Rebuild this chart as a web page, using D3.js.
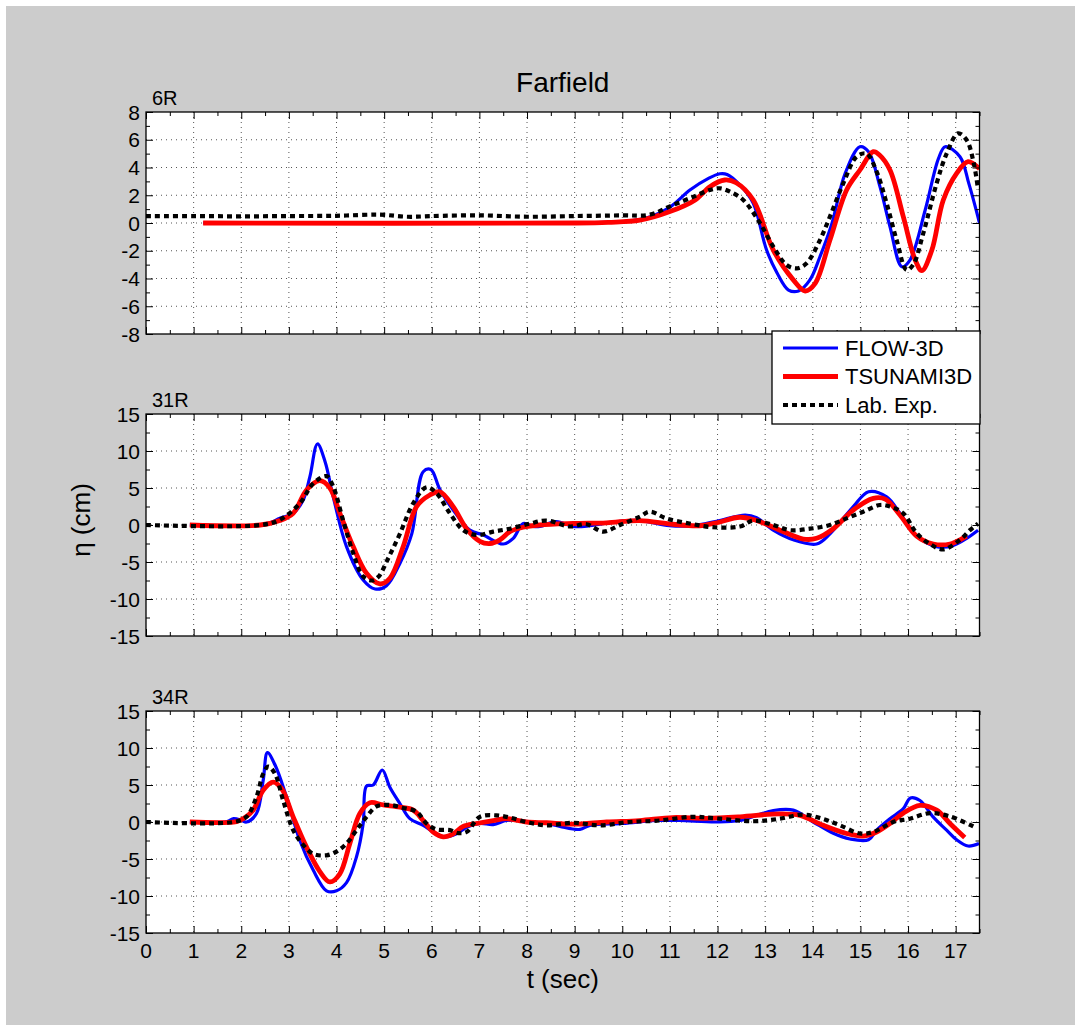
<!DOCTYPE html>
<html>
<head>
<meta charset="utf-8">
<script src="https://cdn.jsdelivr.net/npm/d3@7"></script>
<style>
  body { margin: 0; background: #fff; }
  svg text { font-family: "Liberation Sans", Arial, sans-serif; fill: #000; }
</style>
</head>
<body>
<svg id="chart" width="1075" height="1025"></svg>
<script>
// ---- data: [t (sec), eta (cm)] ----
const flow6R = [[1.2,0],[9.0,0],[9.5,0.03],[10.0,0.1],[10.5,0.35],[11.0,1.15],[11.42,2.38],[11.8,3.2],[12.05,3.55],[12.2,3.5],[12.47,2.74],[12.75,1.42],[13.03,-1.95],[13.25,-3.6],[13.49,-4.83],[13.7,-4.9],[13.94,-4.1],[14.15,-2.43],[14.4,-0.05],[14.68,3.58],[14.99,5.5],[15.17,5.14],[15.41,2.62],[15.62,-0.26],[15.87,-3.15],[16.04,-2.67],[16.36,0.94],[16.64,4.66],[16.78,5.5],[17.09,4.78],[17.28,2.8],[17.5,0]];
const tsu6R = [[1.2,0],[9.0,0],[9.7,0.05],[10.37,0.2],[11.0,0.82],[11.53,1.66],[11.84,2.62],[12.15,3.1],[12.39,2.9],[12.75,1.66],[13.17,-1.95],[13.59,-4.1],[13.84,-4.9],[14.05,-4.35],[14.36,-1.23],[14.71,2.38],[14.99,3.82],[15.27,5.14],[15.4,4.9],[15.62,3.82],[15.9,0.46],[16.15,-2.67],[16.29,-3.43],[16.5,-1.95],[16.74,1.66],[17.02,3.58],[17.26,4.42],[17.5,3.9]];
const lab6R = [[0,0.5],[1,0.5],[2,0.48],[3,0.5],[4,0.52],[4.9,0.6],[5.5,0.45],[6,0.5],[7,0.55],[8,0.45],[9,0.5],[10,0.55],[10.58,0.6],[11.0,1.2],[11.5,1.9],[11.84,2.38],[12.05,2.5],[12.26,2.26],[12.54,1.66],[12.89,0],[13.17,-1.7],[13.45,-3.03],[13.66,-3.27],[13.87,-2.9],[14.15,-1.23],[14.36,0.46],[14.64,2.86],[14.92,4.78],[15.13,5.0],[15.34,3.7],[15.55,1.42],[15.76,-1.23],[15.97,-3.39],[16.11,-3.0],[16.32,-0.74],[16.6,2.86],[16.81,5.0],[17.05,6.46],[17.23,5.98],[17.38,4.3],[17.47,2.4]];

const flow31R = [[0.92,0],[2.4,0],[2.6,0.3],[2.81,0.9],[3.09,1.58],[3.3,3.38],[3.44,6.5],[3.6,10.95],[3.76,8.56],[3.93,3.83],[4.21,-2.92],[4.56,-7.43],[4.81,-8.65],[5.05,-8.2],[5.33,-5.2],[5.58,-1.2],[5.82,7.2],[5.98,7.5],[6.17,4.8],[6.45,2.03],[6.8,-0.7],[7.08,-1.35],[7.5,-2.57],[7.71,-1.8],[7.92,0.2],[8.13,-0.2],[8.27,-0.2],[8.62,0.45],[8.97,-0.2],[9.32,-0.1],[9.88,0.45],[10.36,0.6],[10.99,-0.1],[11.48,-0.1],[11.98,0.5],[12.58,1.35],[12.82,1.0],[13.17,-0.7],[13.59,-2.0],[14.08,-2.57],[14.36,-1.2],[14.85,2.48],[15.17,4.5],[15.55,3.8],[15.83,1.58],[16.18,-1.5],[16.6,-2.92],[16.95,-2.75],[17.23,-1.8],[17.47,-0.7]];
const tsu31R = [[0.92,0],[2.4,0],[2.81,0.6],[3.09,1.58],[3.37,4.73],[3.65,5.99],[3.86,5.0],[4.07,1.58],[4.35,-2.92],[4.63,-6.52],[4.91,-7.97],[5.12,-7.2],[5.4,-2.92],[5.68,2.48],[5.96,4.05],[6.17,4.5],[6.45,2.48],[6.73,-0.5],[7.01,-2.2],[7.22,-2.5],[7.43,-2.0],[7.64,-0.9],[7.92,-0.3],[8.27,0],[8.97,0.2],[9.67,0.3],[10.36,0.6],[11.06,0.1],[11.62,-0.1],[11.98,0.3],[12.47,1.05],[12.82,0.6],[13.31,-0.7],[13.8,-1.9],[14.08,-1.8],[14.43,-0.5],[14.85,2.03],[15.27,3.6],[15.52,3.5],[15.83,1.35],[16.18,-1.5],[16.53,-2.57],[16.88,-2.57],[17.23,-1.5]];
const lab31R = [[0,0],[2.4,0],[2.81,0.7],[3.23,2.93],[3.51,5.6],[3.79,6.6],[3.93,5.2],[4.14,0.6],[4.35,-3.8],[4.56,-6.97],[4.75,-7.5],[4.88,-7.0],[5.1,-4.3],[5.33,-1.2],[5.61,2.93],[5.89,5.1],[6.1,4.3],[6.38,1.58],[6.66,-0.7],[6.94,-1.35],[7.29,-0.9],[7.64,-0.5],[8.06,0.2],[8.41,0.6],[8.9,-0.2],[9.25,0.1],[9.6,-0.9],[9.95,0],[10.36,1.1],[10.58,1.8],[10.92,0.9],[11.41,0.2],[11.9,-0.3],[12.47,-0.2],[12.75,0.6],[13.17,0],[13.52,-0.7],[13.94,-0.5],[14.36,0],[14.71,0.9],[15.06,1.8],[15.41,2.7],[15.62,2.5],[15.9,1.58],[16.18,-1.1],[16.46,-2.57],[16.74,-3.3],[17.09,-2.0],[17.3,-0.7],[17.47,0.2]];

const flow34R = [[0.92,0],[1.7,0.05],[1.84,0.45],[2.01,0.2],[2.11,0],[2.32,1.15],[2.46,5.6],[2.55,9.37],[2.71,7.7],[2.95,3.4],[3.23,-2.5],[3.51,-6.5],[3.79,-9.3],[4.0,-9.3],[4.21,-8.2],[4.42,-4.7],[4.56,-0.2],[4.63,4.86],[4.77,5.0],[4.96,7.03],[5.12,4.7],[5.33,2.5],[5.54,0.45],[5.82,-0.45],[6.03,-1.35],[6.24,-2.0],[6.52,-1.6],[6.73,-0.7],[7.01,-0.2],[7.29,-0.35],[7.57,0.2],[7.85,0.2],[8.13,-0.1],[8.41,-0.2],[8.69,-0.6],[9.11,-1.0],[9.32,-0.45],[10.01,-0.2],[10.71,0.2],[11.2,0.2],[11.97,0],[12.47,0.2],[13.17,1.55],[13.59,1.6],[14.01,0],[14.43,-1.53],[14.78,-2.3],[15.17,-2.4],[15.34,-1.1],[15.62,0.45],[15.9,1.8],[16.05,3.26],[16.25,2.9],[16.53,0.65],[16.81,-1.1],[17.02,-2.4],[17.26,-3.24],[17.49,-2.9]];
const tsu34R = [[0.92,0],[1.9,0.05],[2.04,0.45],[2.25,1.6],[2.46,4.3],[2.67,5.4],[2.85,4.5],[3.09,0.7],[3.37,-3.4],[3.65,-6.7],[3.86,-8.1],[4.07,-7.0],[4.28,-2.9],[4.49,1.15],[4.7,2.6],[4.98,2.3],[5.33,2.0],[5.61,1.6],[5.82,0.2],[6.03,-1.35],[6.24,-2.0],[6.45,-1.6],[6.66,-0.6],[6.94,-0.2],[7.29,0.2],[7.57,0.45],[7.99,0],[8.41,-0.1],[8.97,-0.3],[9.67,0],[10.36,0.2],[11.06,0.6],[11.76,0.5],[12.47,0.7],[13.31,1.1],[13.73,0.9],[14.22,-0.45],[14.71,-1.55],[15.06,-1.9],[15.34,-1.35],[15.62,-0.2],[15.9,1.2],[16.25,2.25],[16.6,1.6],[16.88,-0.2],[17.19,-2.1]];
const lab34R = [[0,0],[1.84,0],[2.11,0.7],[2.32,3.4],[2.46,6.5],[2.57,7.5],[2.71,6.5],[2.88,2.9],[3.09,-1.1],[3.3,-3.1],[3.51,-4.3],[3.79,-4.5],[4.0,-4.0],[4.21,-2.9],[4.42,-1.1],[4.63,0.7],[4.84,2.1],[5.12,2.3],[5.4,1.9],[5.68,1.4],[5.89,-0.2],[6.1,-1.0],[6.38,-1.1],[6.56,-1.5],[6.73,-1.35],[7.01,0.7],[7.36,0.9],[7.64,0.6],[7.99,0],[8.41,-0.45],[8.97,-0.1],[9.53,-0.45],[10.15,0],[10.78,0.2],[11.48,0.7],[11.97,0.5],[12.75,0.1],[13.31,0.45],[13.8,1.0],[14.22,0.4],[14.57,-0.45],[14.99,-1.55],[15.27,-1.35],[15.69,0],[16.04,0.45],[16.46,1.2],[16.88,0.75],[17.37,-0.6]];

const seriesNames = ['FLOW-3D', 'TSUNAMI3D', 'Lab. Exp.'];
const xTicks = d3.range(0, 18, 1);
const xMinorTicks = d3.range(0, 17.6, 0.5);

// ---- layout ----
const svg = d3.select('#chart');
const width = +svg.attr('width');
const height = +svg.attr('height');

svg.append('rect')
  .attr('x', 6).attr('y', 6)
  .attr('width', width - 6).attr('height', height - 6)
  .attr('fill', '#cccccc');

const plotLeft = 146, plotRight = 979.5;
const x = d3.scaleLinear().domain([0, 17.5]).range([plotLeft, plotRight]);

const styles = [
  { color: '#0000ff', width: 3.2, dash: null },
  { color: '#ff0000', width: 4.8, dash: null },
  { color: '#000000', width: 4.2, dash: '5,4' }
];

const drawPanel = (parent, props) => {
  const { id, top, bottom, yDomain, yTicks, yMinorTicks, label, series, showXLabels } = props;
  const innerWidth = plotRight - plotLeft;
  const y = d3.scaleLinear().domain(yDomain).range([bottom, top]);

  const g = parent.append('g').attr('class', 'panel');

  g.append('rect')
    .attr('x', plotLeft).attr('y', top)
    .attr('width', innerWidth).attr('height', bottom - top)
    .attr('fill', '#fff');

  // dotted grid at major ticks
  g.append('g').selectAll('line.vgrid')
    .data(xTicks.filter(d => d > 0))
    .enter().append('line')
      .attr('x1', d => x(d)).attr('x2', d => x(d))
      .attr('y1', top).attr('y2', bottom)
      .attr('stroke', '#555').attr('stroke-width', 1)
      .attr('stroke-dasharray', '1,4');
  g.append('g').selectAll('line.hgrid')
    .data(yTicks.filter(d => d > yDomain[0] && d < yDomain[1]))
    .enter().append('line')
      .attr('x1', plotLeft).attr('x2', plotRight)
      .attr('y1', d => y(d)).attr('y2', d => y(d))
      .attr('stroke', '#555').attr('stroke-width', 1)
      .attr('stroke-dasharray', '1,4');

  // curves
  g.append('clipPath').attr('id', 'clip-' + id)
    .append('rect')
      .attr('x', plotLeft).attr('y', top)
      .attr('width', innerWidth).attr('height', bottom - top);

  const line = d3.line()
    .x(d => x(d[0]))
    .y(d => y(d[1]))
    .curve(d3.curveCatmullRom.alpha(0.5));

  g.append('g').attr('clip-path', `url(#clip-${id})`)
    .selectAll('path.series')
    .data(series)
    .enter().append('path')
      .attr('class', 'series')
      .attr('d', d => line(d))
      .attr('fill', 'none')
      .attr('stroke', (d, i) => styles[i].color)
      .attr('stroke-width', (d, i) => styles[i].width)
      .attr('stroke-dasharray', (d, i) => styles[i].dash)
      .attr('stroke-linejoin', 'round');

  // inward ticks on all four sides
  const tickAxis = (axis, transform, size, values) => {
    const a = g.append('g')
      .attr('transform', transform)
      .call(axis.tickValues(values).tickSize(size).tickFormat(''));
    a.select('.domain').remove();
    a.selectAll('line').attr('stroke', '#000');
  };
  const xMinorOnly = xMinorTicks.filter(d => d % 1 !== 0);
  const yMinorOnly = yMinorTicks.filter(d => !yTicks.includes(d));
  tickAxis(d3.axisBottom(x), `translate(0,${bottom})`, -7, xTicks);
  tickAxis(d3.axisBottom(x), `translate(0,${bottom})`, -4, xMinorOnly);
  tickAxis(d3.axisTop(x), `translate(0,${top})`, -7, xTicks);
  tickAxis(d3.axisTop(x), `translate(0,${top})`, -4, xMinorOnly);
  tickAxis(d3.axisLeft(y), `translate(${plotLeft},0)`, -7, yTicks);
  tickAxis(d3.axisLeft(y), `translate(${plotLeft},0)`, -4, yMinorOnly);
  tickAxis(d3.axisRight(y), `translate(${plotRight},0)`, -7, yTicks);
  tickAxis(d3.axisRight(y), `translate(${plotRight},0)`, -4, yMinorOnly);

  // frame
  g.append('rect')
    .attr('x', plotLeft).attr('y', top)
    .attr('width', innerWidth).attr('height', bottom - top)
    .attr('fill', 'none').attr('stroke', '#000').attr('stroke-width', 1.3);

  // y tick labels
  g.append('g').selectAll('text.ylab')
    .data(yTicks)
    .enter().append('text')
      .attr('x', plotLeft - 6)
      .attr('y', d => y(d))
      .attr('dy', '0.36em')
      .attr('text-anchor', 'end')
      .style('font-size', '21px')
      .text(d => d);

  if (showXLabels) {
    g.append('g').selectAll('text.xlab')
      .data(xTicks)
      .enter().append('text')
        .attr('x', d => x(d))
        .attr('y', bottom + 25)
        .attr('text-anchor', 'middle')
        .style('font-size', '21px')
        .text(d => d);
  }

  g.append('text')
    .attr('x', plotLeft + 6)
    .attr('y', top - 7)
    .style('font-size', '20px')
    .text(label);
};

drawPanel(svg, {
  id: 'p6R', top: 112, bottom: 334,
  yDomain: [-8, 8], yTicks: d3.range(-8, 9, 2), yMinorTicks: d3.range(-8, 9, 1),
  label: '6R', series: [flow6R, tsu6R, lab6R], showXLabels: false
});
drawPanel(svg, {
  id: 'p31R', top: 414, bottom: 636,
  yDomain: [-15, 15], yTicks: d3.range(-15, 16, 5), yMinorTicks: d3.range(-15, 15.1, 2.5),
  label: '31R', series: [flow31R, tsu31R, lab31R], showXLabels: false
});
drawPanel(svg, {
  id: 'p34R', top: 711, bottom: 933,
  yDomain: [-15, 15], yTicks: d3.range(-15, 16, 5), yMinorTicks: d3.range(-15, 15.1, 2.5),
  label: '34R', series: [flow34R, tsu34R, lab34R], showXLabels: true
});

// titles
svg.append('text')
  .attr('x', (plotLeft + plotRight) / 2).attr('y', 92)
  .attr('text-anchor', 'middle')
  .style('font-size', '28px')
  .text('Farfield');

svg.append('text')
  .attr('x', (plotLeft + plotRight) / 2).attr('y', 988)
  .attr('text-anchor', 'middle')
  .style('font-size', '26px')
  .text('t (sec)');

svg.append('text')
  .attr('transform', 'translate(90,520) rotate(-90)')
  .attr('text-anchor', 'middle')
  .style('font-size', '26px')
  .text('η (cm)');

// legend
const legend = svg.append('g').attr('class', 'legend');
legend.append('rect')
  .attr('x', 772).attr('y', 331)
  .attr('width', 208).attr('height', 93)
  .attr('fill', '#fff').attr('stroke', '#000').attr('stroke-width', 1.3);

const legendY = d3.scalePoint().domain(seriesNames).range([348, 405]);
const items = legend.selectAll('g.item').data(seriesNames).enter().append('g').attr('class', 'item');
items.append('line')
  .attr('x1', 783).attr('x2', 838)
  .attr('y1', d => legendY(d)).attr('y2', d => legendY(d))
  .attr('stroke', (d, i) => styles[i].color)
  .attr('stroke-width', (d, i) => styles[i].width)
  .attr('stroke-dasharray', (d, i) => styles[i].dash);
items.append('text')
  .attr('x', 845)
  .attr('y', d => legendY(d))
  .attr('dy', '0.36em')
  .style('font-size', '22px')
  .text(d => d);
</script>
</body>
</html>
